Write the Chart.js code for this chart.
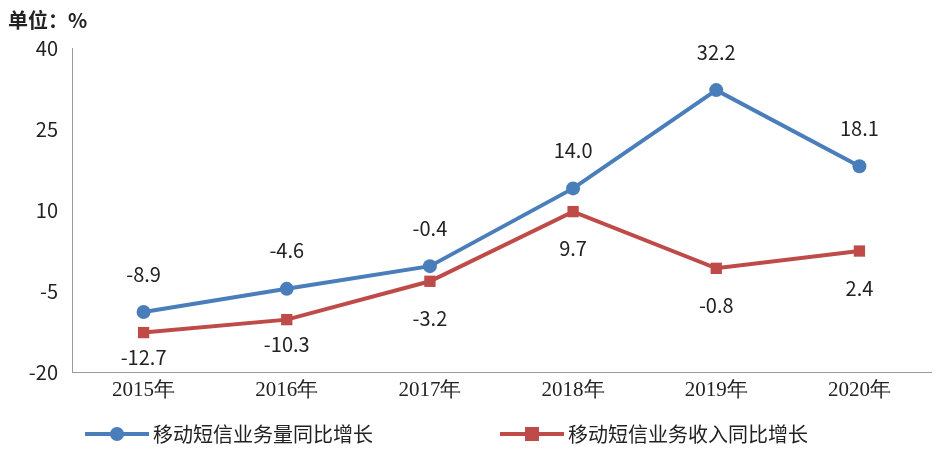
<!DOCTYPE html>
<html><head><meta charset="utf-8">
<script src="https://cdn.jsdelivr.net/npm/chart.js@4"></script>
<style>html,body{margin:0;padding:0;background:#fff}#w{width:945px;height:454px}</style>
</head><body><div id="w"><canvas id="c"></canvas></div>
<script>
const categories=['2015年','2016年','2017年','2018年','2019年','2020年'];
const volumeGrowth=[-8.9,-4.6,-0.4,14.0,32.2,18.1];
const revenueGrowth=[-12.7,-10.3,-3.2,9.7,-0.8,2.4];
const yTicks=[-20,-5,10,25,40];
const seriesNames=['移动短信业务量同比增长','移动短信业务收入同比增长'];
const BLUE='#4a7ebb',RED='#be4b48';
const F='"Noto Sans CJK SC","Noto Sans",sans-serif';
const labelPlugin={id:'lbl',afterDatasetsDraw(ch){
 const c=ch.ctx;c.save();c.fillStyle='#222';c.font='20px '+F;c.textAlign='center';c.textBaseline='middle';
 ch.data.datasets.forEach((ds,i)=>{const m=ch.getDatasetMeta(i);
  m.data.forEach((p,j)=>{const off=i===0?-38:(j<2?25:37);c.fillText(ds.data[j].toFixed(1),p.x,p.y+off);});});
 c.font='bold 20px '+F;c.textAlign='left';c.fillText('单位：%',8,20);
 c.font='20px '+F;c.textBaseline='middle';
 const items=[[85,BLUE,'circle'],[500,RED,'rect']];
 items.forEach(([x,col,sh],i)=>{const y=434;c.strokeStyle=col;c.lineWidth=4;c.beginPath();c.moveTo(x,y);c.lineTo(x+64,y);c.stroke();
  c.fillStyle=col;if(sh==='circle'){c.beginPath();c.arc(x+32,y,7,0,Math.PI*2);c.fill();}else c.fillRect(x+25,y-7,14,14);
  c.fillStyle='#222';c.fillText(seriesNames[i],x+68,y);});
 c.restore();}};
new Chart(document.getElementById('c'),{type:'line',
 data:{labels:categories,datasets:[
  {data:volumeGrowth,borderColor:BLUE,backgroundColor:BLUE,borderWidth:4,pointRadius:7,pointStyle:'circle',pointBorderWidth:0},
  {data:revenueGrowth,borderColor:RED,backgroundColor:RED,borderWidth:4,pointRadius:8,pointStyle:'rect',pointBorderWidth:0}]},
 options:{responsive:true,maintainAspectRatio:false,animation:false,
  layout:{padding:{top:48,bottom:52,left:0,right:14}},
  plugins:{legend:{display:false},tooltip:{enabled:false}},
  scales:{
   x:{offset:true,grid:{display:false,drawTicks:false},border:{color:'#999'},
      ticks:{color:'#222',font:{family:'"Liberation Serif",serif',size:21},padding:6},
      afterFit(s){s.height=30;}},
   y:{min:-20,max:40,afterBuildTicks(s){s.ticks=yTicks.map(v=>({value:v}));},
      grid:{display:false,drawTicks:false},border:{color:'#999'},
      ticks:{color:'#222',font:{family:F,size:20},padding:14},
      afterFit(s){s.width=72;}}}},
 plugins:[labelPlugin]});
</script></body></html>
